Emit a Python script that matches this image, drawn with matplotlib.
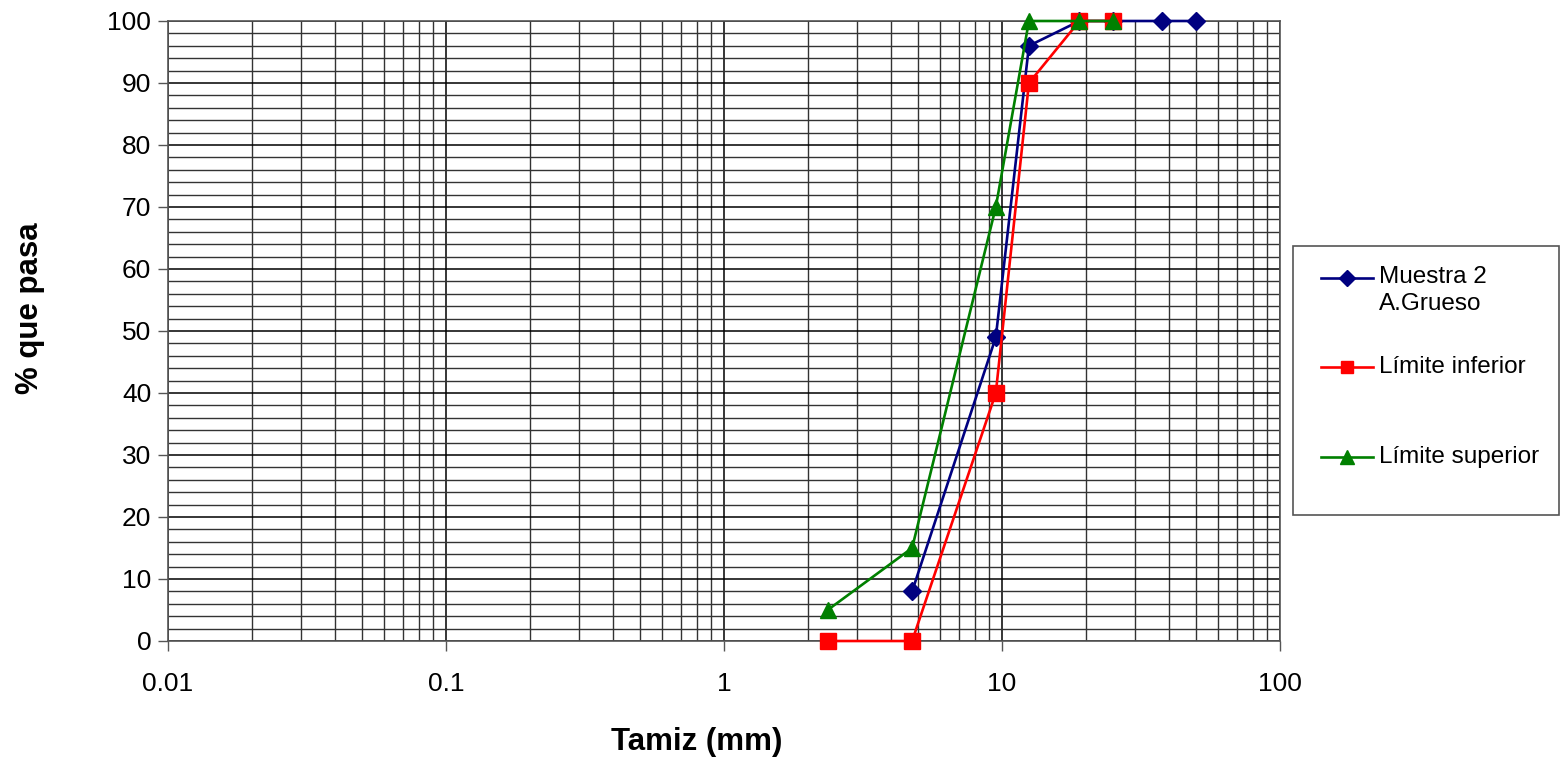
import matplotlib
matplotlib.use("Agg")
import matplotlib.pyplot as plt
from matplotlib.lines import Line2D
from matplotlib.patches import Rectangle
from matplotlib.ticker import FixedLocator, FuncFormatter

plt.rcParams["font.family"] = ["Liberation Sans", "DejaVu Sans"]

# datos de granulometría
muestra_mm = [50, 37.5, 25, 19, 12.5, 9.5, 4.75]
muestra_pct = [100, 100, 100, 100, 96, 49, 8]

inf_mm = [25, 19, 12.5, 9.5, 4.75, 2.36]
inf_pct = [100, 100, 90, 40, 0, 0]

sup_mm = [25, 19, 12.5, 9.5, 4.75, 2.36]
sup_pct = [100, 100, 100, 70, 15, 5]

labels = ["Muestra 2\nA.Grueso", "Límite inferior", "Límite superior"]
NAVY, RED, GREEN = "#000080", "#ff0000", "#008000"

W, H = 1563, 763
fig = plt.figure(figsize=(W / 100, H / 100), dpi=100, facecolor="white")
ax = fig.add_axes([168 / W, (H - 641) / H, (1280 - 168) / W, (641 - 21) / H])

ax.set_xscale("log")
ax.set_xlim(0.01, 100)
ax.set_ylim(0, 100)

# cuadrícula
minor_x = [m * 10.0 ** e for e in range(-2, 2) for m in range(2, 10)]
ax.xaxis.set_major_locator(FixedLocator([0.01, 0.1, 1, 10, 100]))
ax.xaxis.set_minor_locator(FixedLocator(minor_x))
ax.xaxis.set_major_formatter(FuncFormatter(lambda v, p: f"{v:g}"))
ax.yaxis.set_major_locator(FixedLocator(range(0, 101, 10)))
ax.yaxis.set_minor_locator(FixedLocator(range(0, 101, 2)))
ax.grid(True, which="major", color="black", linewidth=1.1, zorder=0)
ax.grid(True, which="minor", color="#333333", linewidth=1.0, zorder=0)
ax.set_axisbelow(True)
ax.tick_params(which="minor", length=0)
ax.tick_params(which="major", length=7, width=1, color="#555555",
               labelsize=19, pad=5)
ax.tick_params(axis="x", which="major", pad=15)
for s in ax.spines.values():
    s.set_color("#555555")
    s.set_linewidth(1.2)

l1, = ax.plot(muestra_mm, muestra_pct, color=NAVY, lw=1.9, marker="D",
              ms=9, clip_on=False, zorder=3)
l2, = ax.plot(inf_mm, inf_pct, color=RED, lw=1.9, marker="s",
              ms=11, clip_on=False, zorder=4)
l3, = ax.plot(sup_mm, sup_pct, color=GREEN, lw=1.9, marker="^",
              ms=11.5, clip_on=False, zorder=5)

fig.text(697 / W, 1 - 742 / H, "Tamiz (mm)", fontsize=22.5, fontweight="bold",
         ha="center", va="center")
fig.text(30 / W, 1 - 308 / H, "% que pasa", fontsize=22.5, fontweight="bold",
         ha="center", va="center", rotation=90)

# leyenda dibujada a mano
fig.patches.append(Rectangle((1293 / W, 1 - 515 / H), (1559 - 1293) / W,
                             (515 - 246) / H, transform=fig.transFigure,
                             facecolor="white", edgecolor="#555555", lw=1.2))
for line, ypx, lab in zip([l1, l2, l3], [278, 367, 457], labels):
    y = 1 - ypx / H
    fig.lines.append(Line2D([1321 / W, 1373 / W], [y, y],
                            transform=fig.transFigure, color=line.get_color(),
                            lw=1.9))
    fig.lines.append(Line2D([1347 / W], [y], transform=fig.transFigure,
                            color=line.get_color(), marker=line.get_marker(),
                            ms=line.get_markersize() * 0.85, lw=0))
    if "\n" in lab:
        fig.text(1379 / W, 1 - (ypx - 12) / H, lab, fontsize=17.5, ha="left",
                 va="top", linespacing=1.3)
    else:
        fig.text(1379 / W, y, lab, fontsize=17.5, ha="left", va="center")

fig.savefig("out.png", dpi=100)
